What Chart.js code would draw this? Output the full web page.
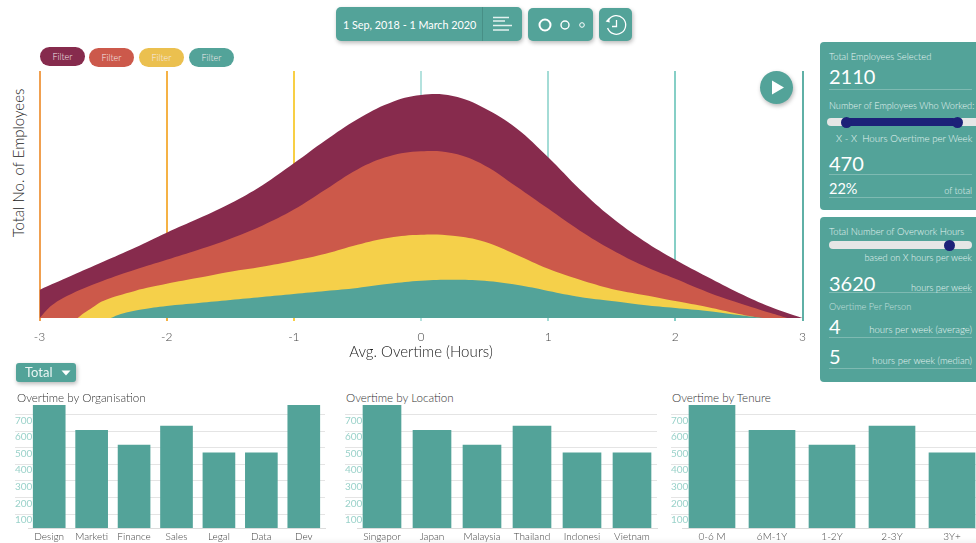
<!DOCTYPE html>
<html>
<head>
<meta charset="utf-8">
<title>Overtime dashboard</title>
<script src="https://cdn.jsdelivr.net/npm/chart.js@4"></script>
<style>
  html, body { margin: 0; padding: 0; width: 976px; height: 543px; overflow: hidden; background: #fff; font-family: Lato, sans-serif; font-weight: 300; }
  canvas { position: absolute; }
  .box { position: absolute; background: #53a399; border-radius: 5px; box-shadow: 1px 2px 4px rgba(0,0,0,.28); }
  .pill { position: absolute; height: 19px; width: 45px; border-radius: 10px; color: #f5ecec; font-size: 9px; line-height: 19px; text-align: center; }
  .panel { position: absolute; left: 820px; width: 170px; background: #53a399; border-radius: 4px; }
  .t { position: absolute; transform: translateY(-50%); white-space: nowrap; color: #e6f3f1; font-size: 9px; }
  .r { right: 4px; }
  .big { color: #fff; font-size: 20px; font-weight: 400; }
  .rule { position: absolute; left: 829px; width: 143px; height: 1px; background: rgba(255,255,255,.25); }
  .title { position: absolute; top: 397px; transform: translateY(-50%); color: #333; font-size: 11.6px; white-space: nowrap; }
  .track { position: absolute; height: 8px; background: #e6e6e6; border-radius: 4px; }
  .knob { position: absolute; width: 11px; height: 11px; border-radius: 50%; background: #1c2178; }
  .fade { position: absolute; left: 250px; right: 0; bottom: 0; height: 6px; background: linear-gradient(rgba(0,0,0,0), rgba(0,0,0,.04)); }
</style>
</head>
<body>

<div class="box" style="left:336px;top:7px;width:186px;height:34px"></div>
<div style="position:absolute;left:482px;top:7px;width:1px;height:34px;background:#478f86"></div>
<div class="t" style="left:343px;top:24px;font-size:10.8px;color:#fff;font-weight:400">1 Sep, 2018 - 1 March 2020</div>
<svg style="position:absolute;left:490px;top:14px" width="26" height="20" stroke="#e4f2f0" stroke-width="1.3">
  <path d="M3 3.5H19M3 7H15M3 11.5H22M3 16H19"/>
</svg>
<div class="box" style="left:528px;top:8px;width:65px;height:33px"></div>
<svg style="position:absolute;left:528px;top:8px" width="65" height="33" fill="none" stroke="#fff">
  <circle cx="17" cy="17" r="5.5" stroke-width="2"/>
  <circle cx="37" cy="17" r="4" stroke-width="1.4"/>
  <circle cx="54" cy="17" r="2.3" stroke-width="1"/>
</svg>
<div class="box" style="left:599px;top:8px;width:33px;height:33px"></div>
<svg style="position:absolute;left:599px;top:8px" width="33" height="33" fill="none" stroke="#fff" stroke-width="1.3">
  <path d="M9.5 12A9.3 9.3 0 1 1 8.6 20"/>
  <path d="M17.5 12V18.5H13"/>
  <path d="M6.6 13.5L10.8 14.5L10 10" fill="#fff" stroke="none"/>
</svg>

<div class="pill" style="left:40px;top:47px;background:#862b4d">Filter</div>
<div class="pill" style="left:89px;top:48px;background:#cc594b">Filter</div>
<div class="pill" style="left:139px;top:48px;background:#ebc04f">Filter</div>
<div class="pill" style="left:189px;top:48px;background:#53a399">Filter</div>

<div style="position:absolute;left:18px;top:163px;transform:translate(-50%,-50%) rotate(-90deg);font-size:15px;color:#222;white-space:nowrap">Total No. of Employees</div>

<canvas id="mainChart" width="815" height="290" style="left:0;top:71px"></canvas>

<div class="box" style="left:760px;top:71px;width:33px;height:33px;border-radius:50%"></div>
<svg style="position:absolute;left:760px;top:71px" width="33" height="33"><path d="M12 9.5L24 16.5L12 23.5Z" fill="#fff"/></svg>

<div class="panel" style="top:42px;height:168px"></div>
<div class="t" style="left:829px;top:56px;font-size:9.4px">Total Employees Selected</div>
<div class="t big" style="left:829px;top:76px">2110</div>
<div class="rule" style="top:89px"></div>
<div class="t" style="left:829px;top:105px;font-size:9.2px">Number of Employees Who Worked:</div>
<div class="track" style="left:827px;top:118px;width:160px"></div>
<div class="track" style="left:846px;top:118px;width:111px;background:#1c2178"></div>
<div class="knob" style="left:841px;top:116.5px"></div>
<div class="knob" style="left:952px;top:116.5px"></div>
<div class="t" style="left:836px;top:138px;font-size:9.7px">X - X &nbsp;Hours Overtime per Week</div>
<div class="t big" style="left:829px;top:163px">470</div>
<div class="rule" style="top:174px"></div>
<div class="t big" style="left:829px;top:188px;font-size:14.5px">22%</div>
<div class="t r" style="top:190px">of total</div>
<div class="rule" style="top:197px"></div>

<div class="panel" style="top:217px;height:165px"></div>
<div class="t" style="left:829px;top:231px;font-size:9.4px">Total Number of Overwork Hours</div>
<div class="track" style="left:829px;top:241px;width:143px"></div>
<div class="knob" style="left:944px;top:239.5px"></div>
<div class="t r" style="top:257px;font-size:9.2px">based on X hours per week</div>
<div class="t big" style="left:829px;top:283px">3620</div>
<div class="t r" style="top:287px;font-size:9.2px">hours per week</div>
<div class="rule" style="top:292px"></div>
<div class="t" style="left:829px;top:306px;opacity:.75;font-size:9.2px">Overtime Per Person</div>
<div class="t big" style="left:829px;top:326px">4</div>
<div class="t r" style="top:329px;font-size:9.6px">hours per week (average)</div>
<div class="rule" style="top:337px"></div>
<div class="t big" style="left:829px;top:356px">5</div>
<div class="t r" style="top:360px;font-size:9.5px">hours per week (median)</div>
<div class="rule" style="top:368px"></div>

<div class="box" style="left:16px;top:363px;width:60px;height:19px;border-radius:3px"></div>
<div class="t" style="left:25px;top:372px;font-size:13px;color:#eaf5f3;font-weight:400">Total</div>
<svg style="position:absolute;left:61px;top:370px" width="10" height="7"><path d="M0.5 0.5H9.5L5 5.5Z" fill="#fff"/></svg>

<div class="title" style="left:17px">Overtime by Organisation</div>
<div class="title" style="left:346px">Overtime by Location</div>
<div class="title" style="left:672px">Overtime by Tenure</div>

<canvas id="orgChart" width="314" height="138" style="left:15px;top:405px"></canvas>
<canvas id="locChart" width="316" height="138" style="left:345px;top:405px"></canvas>
<canvas id="tenureChart" width="315" height="138" style="left:671px;top:405px"></canvas>
<div class="fade"></div>

<script>
// 分布の輪郭（横軸の値と高さ）
const maroonHours = [-3, -2.75, -2.5, -2.25, -2, -1.75, -1.5, -1.25, -1, -0.75, -0.5, -0.25, 0, 0.25, 0.5, 0.75, 1, 1.25, 1.5, 1.75, 2, 2.25, 2.5, 2.75, 3];
const maroonCounts = [28, 42, 56, 70, 85, 99, 114, 132, 154, 177, 198, 214, 222, 221, 209, 189, 160, 128, 100, 77, 58, 41, 25, 11, 0];
const redHours = [-3, -2.9, -2.75, -2.5, -2.25, -2, -1.75, -1.5, -1.25, -1, -0.75, -0.5, -0.25, 0, 0.25, 0.5, 0.75, 1, 1.25, 1.5, 1.75, 2, 2.25, 2.5, 2.75, 2.88];
const redCounts = [0, 13, 24, 37, 48, 58, 68, 79, 92, 108, 128, 148, 161, 166, 164, 152, 131, 109, 87, 68, 52, 39, 26, 15, 5, 0];
const yellowHours = [-2.7, -2.65, -2.6, -2.5, -2.25, -2, -1.75, -1.5, -1.25, -1, -0.75, -0.5, -0.25, 0, 0.25, 0.5, 0.75, 1, 1.25, 1.5, 1.75, 2, 2.25, 2.5, 2.67];
const yellowCounts = [0, 5, 9, 17, 27, 34, 40, 46, 51, 57, 64, 73, 80, 83, 82, 76, 63, 49, 38, 29, 23, 17, 11, 4, 0];
const tealHours = [-2.44, -2.36, -2.2, -2, -1.75, -1.5, -1.25, -1, -0.75, -0.5, -0.25, 0, 0.25, 0.5, 0.75, 1, 1.25, 1.5, 1.75, 2, 2.25, 2.5, 2.69];
const tealCounts = [0, 4, 8.5, 12, 15, 18, 21, 24, 27, 30, 34, 37, 38, 37, 33, 27, 21, 17, 13, 10, 7, 3, 0];

// 棒グラフ
const orgLabels = ['Design', 'Marketi', 'Finance', 'Sales', 'Legal', 'Data', 'Dev'];
const orgValues = [757, 604, 516, 630, 469, 469, 757];
const locLabels = ['Singapor', 'Japan', 'Malaysia', 'Thailand', 'Indonesi', 'Vietnam'];
const locValues = [757, 604, 516, 630, 469, 469];
const tenureLabels = ['0-6 M', '6M-1Y', '1-2Y', '2-3Y', '3Y+'];
const tenureValues = [757, 604, 516, 630, 469];

const TEAL = '#53a399';
const gridColors = ['#f0a050', '#f5b245', '#f8cf45', '#b4e2de', '#a4dcd6', '#86cfc6', '#5fb0a6'];

function toPoints(xs, ys) {
  return xs.map((x, i) => ({ x: x, y: ys[i] }));
}

function area(xs, ys, color) {
  return {
    data: toPoints(xs, ys),
    backgroundColor: color,
    borderWidth: 0,
    pointRadius: 0,
    fill: 'origin',
    tension: 0.4
  };
}

new Chart(document.getElementById('mainChart'), {
  type: 'line',
  data: {
    // 先頭のデータセットが一番手前に描かれる
    datasets: [
      area(tealHours, tealCounts, TEAL),
      area(yellowHours, yellowCounts, '#f5d04a'),
      area(redHours, redCounts, '#cc594a'),
      area(maroonHours, maroonCounts, '#872b4d')
    ]
  },
  options: {
    responsive: false,
    animation: false,
    layout: { padding: { right: 12.5 } },
    plugins: { legend: { display: false }, tooltip: { enabled: false } },
    scales: {
      x: {
        type: 'linear',
        min: -3,
        max: 3,
        afterFit: s => { s.height = 43; },
        ticks: { stepSize: 1, color: '#444', font: { family: 'Lato', size: 12, weight: 300 }, padding: 9, maxRotation: 0 },
        grid: { color: ctx => gridColors[ctx.index], lineWidth: 2, tickLength: 3 },
        border: { display: false },
        title: { display: true, text: 'Avg. Overtime (Hours)', color: '#222', font: { family: 'Lato', size: 15, weight: 300 }, padding: { top: 0, bottom: 0 } }
      },
      y: {
        min: 0,
        max: 246,
        afterFit: s => { s.width = 39.5; },
        ticks: { display: false },
        grid: { display: false },
        border: { display: false }
      }
    }
  }
});

function barChart(id, labels, values, thickness, leftWidth) {
  new Chart(document.getElementById(id), {
    type: 'bar',
    data: { labels: labels, datasets: [{ data: values, backgroundColor: TEAL, barThickness: thickness }] },
    options: {
      responsive: false,
      animation: false,
      layout: { padding: { right: 4 } },
      plugins: { legend: { display: false }, tooltip: { enabled: false } },
      scales: {
        x: {
          afterFit: s => { s.height = 15; },
          ticks: { color: '#444', font: { family: 'Lato', size: 10, weight: 300 }, padding: 3, maxRotation: 0, autoSkip: false },
          grid: { display: false, drawTicks: false },
          border: { color: '#dcdcdc' }
        },
        y: {
          min: 16,
          max: 757,
          afterFit: s => { s.width = leftWidth; },
          ticks: {
            stepSize: 100,
            includeBounds: false,
            mirror: true,
            padding: -leftWidth,
            labelOffset: 6,
            color: '#9ad2ca',
            font: { family: 'Lato', size: 10 }
          },
          grid: { color: '#e4e4e4', tickLength: leftWidth },
          border: { display: false }
        }
      }
    }
  });
}

barChart('orgChart', orgLabels, orgValues, 32, 13);
barChart('locChart', locLabels, locValues, 38, 12);
barChart('tenureChart', tenureLabels, tenureValues, 46, 11);
</script>
</body>
</html>
